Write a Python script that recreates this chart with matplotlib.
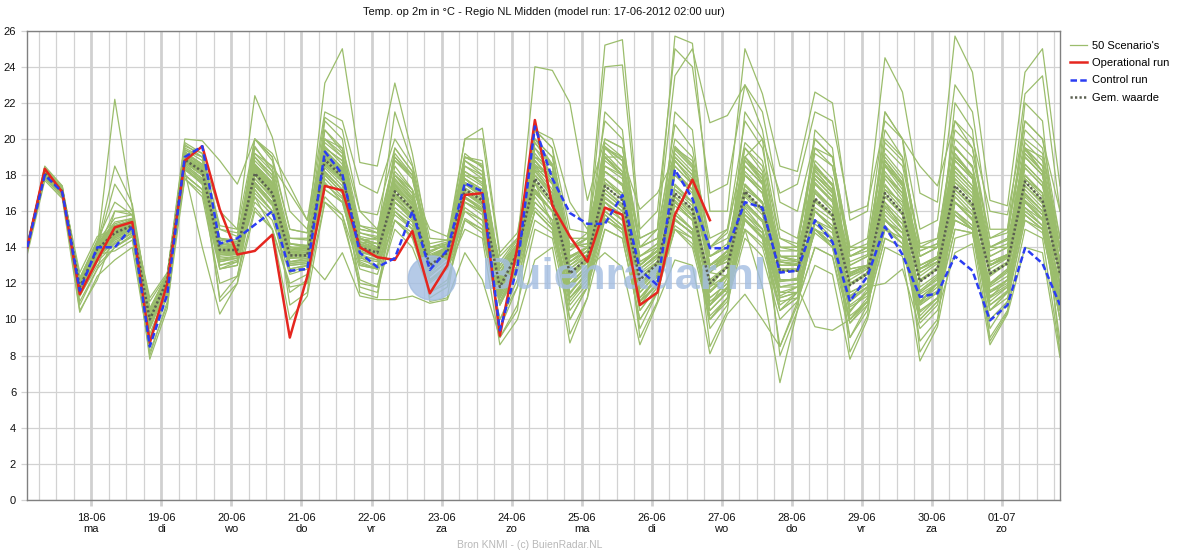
import matplotlib
matplotlib.use("Agg")
import matplotlib.pyplot as plt
import matplotlib.dates as mdates
from matplotlib.patches import Ellipse
import numpy as np
import pandas as pd

plt.rcParams['font.family'] = ['Liberation Sans', 'DejaVu Sans']

# model run 17-06-2012 02:00, one value every 6 hours
START = '2012-06-17 02:00'
N_STEPS = 60

# 50 scenario's, temperatures in tenths of a degree (read from the plume)
SCENARIOS = [
    "141 182 172 121 140 152 155 103 123 191 184 142 140 186 173 139 138 192 182 143 139 175 163 131 138 175 168 120 138 182 182 134 140 192 182 128 136 188 176 126 138 190 178 133 132 186 174 125 130 188 176 128 134 192 180 130 136 194 182 132",
    "138 179 169 114 134 143 148 95 118 183 176 132 134 175 165 131 132 181 172 135 133 165 156 126 134 167 161 113 133 171 160 119 130 167 160 117 127 163 155 115 124 164 155 121 123 160 152 113 120 163 153 116 124 168 158 119 127 169 160 119",
    "139 185 174 108 128 160 158 88 113 197 190 128 130 196 182 126 130 205 193 131 128 185 172 121 129 185 178 108 130 195 180 114 127 190 180 110 124 188 176 108 118 190 176 113 118 183 171 104 117 188 174 109 120 192 178 112 122 195 182 110",
    "142 183 173 123 144 165 158 110 125 195 190 152 150 200 188 150 148 212 205 160 158 195 182 140 143 188 180 128 142 205 195 150 148 210 200 140 145 208 195 140 150 210 195 145 140 200 190 135 138 205 190 140 140 210 195 140 145 210 200 145",
    "136 177 167 104 124 133 140 82 108 178 168 120 124 162 150 118 120 165 155 120 118 150 140 115 120 155 148 100 118 155 148 105 118 150 145 100 115 150 140 100 110 145 135 100 110 140 135 98 108 145 140 100 110 150 148 105 112 155 148 105",
    "140 180 170 117 137 146 150 99 121 186 178 136 137 178 168 134 135 185 176 139 136 168 158 129 136 170 164 116 136 176 152 112 122 160 152 110 119 156 147 108 117 156 146 115 115 153 144 107 113 156 145 109 116 160 150 113 119 162 152 113",
    "141 183 172 120 142 154 156 105 124 194 188 145 142 190 178 142 140 196 186 145 140 178 166 133 140 178 170 118 136 172 160 118 128 165 158 112 124 160 150 108 118 158 148 112 115 155 145 105 115 158 148 110 120 165 155 115 122 166 156 112",
    "139 180 170 116 136 142 148 96 119 184 176 133 134 174 164 130 131 180 170 134 132 165 157 127 135 170 165 120 140 185 175 132 140 185 178 130 138 182 172 128 136 180 170 135 133 178 168 126 130 182 170 128 134 185 174 130 136 186 176 132",
    "140 181 171 119 139 150 153 101 123 190 182 140 139 183 172 138 137 190 181 142 138 174 164 131 138 175 169 121 139 185 180 140 145 252 255 150 160 250 240 170 175 230 215 165 160 200 190 140 145 215 200 150 155 230 215 150 150 225 235 160",
    "140 181 171 119 140 148 152 100 122 189 181 139 139 182 171 137 137 190 183 141 139 173 162 131 138 176 170 122 140 188 178 142 140 240 241 145 150 257 253 160 160 250 225 185 182 226 220 155 160 245 226 170 165 257 237 166 163 237 250 174",
    "140 182 172 118 140 150 154 102 124 192 186 145 142 200 190 150 148 231 250 187 185 231 192 140 140 190 185 125 140 205 200 165 150 190 180 135 140 190 180 135 140 185 175 135 135 180 170 130 135 185 175 135 140 190 180 135 140 195 185 140",
    "140 181 171 118 139 147 151 99 121 188 181 138 138 183 174 137 136 191 183 141 138 176 166 133 139 180 178 123 142 240 238 220 166 200 195 140 150 200 190 145 150 195 185 140 140 195 185 135 140 200 190 140 145 205 195 145 150 205 195 140",
    "140 182 171 119 140 175 160 101 123 194 190 160 150 224 201 160 150 200 195 160 150 190 180 140 142 185 180 130 142 190 185 140 145 185 180 130 140 185 175 130 135 180 170 130 130 175 165 125 130 180 170 130 135 180 170 130 135 180 170 130",
    "141 183 172 120 140 222 162 105 124 193 185 145 143 190 180 140 140 195 188 145 142 180 168 132 139 178 170 120 138 183 170 128 135 178 170 125 132 174 165 122 130 174 164 128 128 170 160 120 126 172 161 122 129 176 166 126 132 178 168 126",
    "139 180 170 110 128 140 146 80 110 184 175 112 124 172 160 115 122 178 168 122 118 160 150 112 118 165 160 95 118 170 160 100 118 165 158 95 115 165 155 95 108 162 150 85 108 155 150 90 105 165 150 88 100 165 155 95 110 170 160 88",
    "139 179 169 113 130 140 147 90 115 180 172 130 132 170 160 128 130 175 167 132 128 160 152 122 130 165 160 110 128 165 155 110 122 160 152 108 120 155 148 102 112 150 118 65 105 130 125 78 100 140 135 77 96 145 148 90 105 150 145 82",
    "140 181 171 119 139 149 152 101 122 188 180 137 138 180 169 135 136 187 178 139 137 170 161 130 137 172 166 118 137 178 166 125 134 174 166 122 131 170 161 120 129 171 161 127 127 167 158 119 125 170 159 121 128 174 164 125 131 176 166 125",
    "141 184 174 122 143 156 158 106 125 198 192 150 146 195 184 145 144 205 195 152 148 190 178 138 141 188 182 125 141 198 185 140 142 195 188 132 138 192 182 130 138 195 182 135 132 188 178 128 130 192 180 130 134 196 184 132 136 198 188 132",
    "139 178 168 116 136 138 144 95 118 178 170 128 132 165 155 125 128 168 158 128 125 155 148 120 128 160 152 112 130 160 150 115 126 155 150 115 125 152 145 112 120 150 142 118 120 148 140 110 118 150 142 112 120 155 150 118 124 158 150 115",
    "140 180 170 117 137 145 150 98 120 185 177 134 135 176 165 132 133 182 172 136 133 165 155 126 134 168 161 115 134 172 160 120 130 168 160 115 126 165 155 112 120 160 150 118 118 96 94 100 110 150 145 110 118 165 158 115 120 168 158 112",
    "140 182 172 122 142 153 156 104 124 192 185 142 141 186 175 140 139 194 184 144 145 192 180 137 142 192 184 126 142 200 186 134 140 198 190 130 138 196 186 128 132 175 165 130 130 171 162 122 128 174 163 124 131 178 168 128 134 180 170 128",
    "140 181 171 118 138 147 151 100 121 187 180 137 137 180 169 134 135 186 177 138 135 168 158 128 135 168 162 114 133 172 160 118 128 165 155 112 124 158 150 110 118 155 145 112 115 150 142 108 115 152 142 108 115 155 150 112 118 158 150 108",
    "141 181 172 126 146 150 156 112 126 188 183 150 148 182 172 145 145 190 182 152 150 172 165 142 144 175 170 132 145 180 170 140 148 175 170 140 145 172 165 140 145 172 165 140 140 170 162 135 140 172 165 138 142 176 168 140 145 178 170 140",
    "138 182 170 105 122 148 150 78 106 190 184 110 120 185 172 108 115 190 180 115 112 175 165 110 112 175 168 90 105 180 168 92 112 178 168 90 110 175 165 85 105 175 165 80 105 172 162 82 102 175 163 82 98 178 168 88 104 180 170 82",
    "140 181 171 120 141 152 154 103 123 192 186 143 141 190 180 142 141 198 190 148 145 182 172 135 140 180 174 122 140 188 176 132 138 182 175 128 136 180 170 126 134 180 170 132 131 175 166 124 129 178 166 126 132 182 172 130 135 184 174 130",
    "139 180 170 116 137 144 149 97 119 184 175 130 133 172 160 128 130 176 165 130 128 160 150 122 130 162 155 108 128 165 155 115 125 162 155 112 122 158 150 108 118 158 150 115 118 155 148 110 118 160 150 112 120 165 155 115 122 165 155 112",
    "139 180 170 115 134 146 150 96 118 182 140 103 120 160 150 120 125 172 165 130 128 165 158 125 132 168 160 112 130 170 160 118 128 170 162 118 128 168 158 115 125 168 158 122 122 162 155 115 120 165 155 115 122 170 160 120 128 172 162 120",
    "141 183 173 121 141 185 164 105 125 200 199 188 175 200 192 174 155 215 210 175 170 200 185 138 142 190 185 128 142 200 190 145 145 195 185 135 142 195 185 135 140 190 180 135 135 185 175 130 135 190 178 135 140 195 185 135 140 195 185 138",
    "140 181 171 119 140 149 153 101 122 189 182 140 139 192 185 170 155 200 192 150 148 188 178 136 140 182 176 124 140 192 180 135 140 188 180 130 138 185 175 128 135 185 175 130 130 180 170 125 130 185 172 128 134 188 178 130 136 190 180 132",
    "139 179 169 113 132 142 148 92 116 180 172 128 130 168 150 100 113 165 158 118 115 155 145 115 122 155 150 100 122 160 150 108 120 158 150 105 118 155 148 100 112 155 145 105 112 150 140 98 110 155 145 100 110 160 152 105 115 165 155 100",
    "140 180 170 117 136 146 151 99 120 186 178 135 136 176 165 132 133 122 137 113 111 111 113 109 111 137 122 90 108 150 145 100 118 155 150 105 118 150 145 100 112 150 140 105 112 150 140 100 110 150 142 105 112 155 150 108 115 158 150 105",
    "140 181 171 118 138 147 151 99 121 187 180 137 137 180 169 134 135 187 178 139 136 168 158 122 128 150 145 86 100 133 140 87 112 150 145 100 115 155 148 105 115 155 145 108 115 150 142 105 115 155 148 108 115 160 152 110 118 162 155 108",
    "140 181 171 119 139 148 152 100 122 188 181 138 138 181 170 136 136 188 179 140 137 170 160 128 135 168 160 115 133 172 160 118 128 137 129 86 109 133 130 81 103 114 100 85 110 140 135 90 108 145 140 98 108 150 148 100 110 155 150 100",
    "140 180 170 117 138 147 151 99 121 187 180 137 137 180 169 135 136 187 178 139 137 170 160 130 137 170 164 117 136 175 163 122 132 170 162 119 129 166 157 116 125 165 155 122 122 160 150 112 118 120 128 95 105 137 142 86 103 140 137 79",
    "141 182 172 121 141 151 154 103 123 190 184 140 140 188 178 140 138 195 188 146 144 180 170 134 140 178 170 120 138 184 172 130 136 182 174 126 134 182 172 128 134 182 172 132 130 176 166 124 128 180 168 126 132 184 174 130 134 186 176 130",
    "140 181 171 118 139 148 152 100 121 187 180 136 137 178 167 134 134 184 174 137 135 167 158 128 136 170 163 116 136 175 163 123 133 172 163 120 130 168 158 118 130 188 178 128 128 184 174 120 126 186 174 121 128 190 180 124 131 192 182 124",
    "140 182 172 120 140 150 154 102 123 191 184 141 140 185 175 140 139 192 183 145 142 177 167 133 139 178 172 122 140 190 180 135 140 200 195 145 150 235 250 209 213 230 205 150 145 195 190 140 140 195 185 140 140 195 185 140 140 195 190 140",
    "141 183 172 121 141 152 155 103 124 193 186 144 142 192 182 142 140 200 190 148 146 215 186 145 144 200 206 137 148 200 190 140 142 190 180 132 138 190 180 130 138 190 180 135 132 185 175 128 130 188 176 130 135 190 180 132 136 192 182 132",
    "140 181 171 119 140 149 153 101 122 190 183 140 139 186 176 139 138 193 184 143 140 180 170 135 140 200 200 135 145 195 185 135 140 190 182 130 138 188 178 130 136 188 176 132 130 182 172 126 130 186 174 128 134 188 178 130 136 190 180 130",
    "141 182 172 123 143 151 155 106 125 191 184 145 144 186 175 142 141 193 184 150 148 180 172 150 146 182 175 130 144 188 176 140 145 182 175 135 142 180 172 135 142 180 172 138 138 178 168 132 136 180 170 135 140 182 172 138 142 184 174 138",
    "140 181 171 120 140 150 153 101 122 189 182 140 139 184 173 138 137 190 181 142 139 174 164 131 138 175 168 120 138 182 170 128 136 190 190 161 170 190 180 135 140 185 175 140 138 180 172 135 140 185 175 138 142 188 178 140 144 190 180 140",
    "140 182 172 121 141 151 155 103 124 191 184 142 141 186 176 140 139 194 184 145 142 178 168 134 140 178 172 122 140 185 175 132 138 182 175 130 138 180 172 130 138 190 200 170 175 215 210 159 163 210 200 185 174 210 200 160 158 210 200 160",
    "139 179 169 115 135 144 149 96 119 183 175 132 134 174 163 130 131 180 170 133 130 162 154 124 132 165 158 110 130 168 155 112 124 160 152 108 120 158 150 105 115 155 145 105 115 150 142 100 112 155 145 102 112 158 150 105 115 160 152 100",
    "140 181 171 118 138 148 152 100 121 188 182 138 138 182 171 136 136 189 180 141 138 172 162 130 137 173 167 119 137 180 168 126 134 176 168 123 132 172 163 121 115 170 160 110 112 166 157 102 110 168 158 104 112 172 162 108 116 174 164 106",
    "140 183 173 117 139 160 160 98 120 196 192 136 136 200 190 132 134 210 200 138 134 195 182 128 134 190 188 115 134 205 195 125 132 215 205 120 128 215 205 118 125 215 200 122 122 205 195 115 120 215 200 118 125 220 205 120 128 220 210 118",
    "139 179 169 122 142 140 146 106 124 180 172 140 140 168 158 140 140 172 165 145 140 158 150 135 140 160 155 125 140 162 152 130 138 158 150 128 135 155 148 128 132 155 148 130 130 150 145 125 130 155 148 128 132 158 150 130 135 160 152 130",
    "141 182 172 120 141 150 154 102 123 190 183 140 140 184 174 138 138 191 182 143 142 188 180 134 140 190 186 124 140 198 186 132 138 196 188 128 136 194 184 126 124 165 155 118 120 160 150 112 118 162 150 114 120 165 156 116 122 166 158 115",
    "139 180 170 116 136 145 150 97 119 185 177 133 135 176 165 131 132 182 172 135 128 155 146 122 128 156 150 108 126 160 150 112 122 156 148 110 120 150 142 108 123 163 154 121 122 160 152 113 120 163 153 115 123 168 158 119 126 170 160 118",
    "140 181 171 119 140 149 153 101 122 189 182 139 139 183 172 137 137 190 181 141 139 174 164 131 138 176 170 121 140 186 178 138 145 195 190 140 145 195 188 140 148 198 188 145 142 192 185 138 142 198 188 142 145 200 190 145 148 200 192 145",
    "140 181 171 119 139 148 152 101 122 187 180 138 138 180 169 136 136 186 177 140 137 169 160 130 137 171 165 119 137 176 165 126 134 172 164 123 131 168 160 121 129 169 160 127 127 165 157 120 125 168 158 122 128 172 163 125 131 174 165 125",
]

# operational run (ends after 40 steps), degrees C
OPERATIONAL = [14.0, 18.35, 17.05, 11.4, 13.3, 15.1, 15.4, 8.7, 12.0, 18.8,
               19.6, 16.1, 13.6, 13.8, 14.7, 9.0, 12.4, 17.4, 17.15, 14.0,
               13.45, 13.3, 14.9, 11.45, 13.0, 16.9, 17.0, 9.1, 14.0, 21.05,
               16.3, 14.6, 13.2, 16.2, 15.8, 10.8, 11.5, 15.8, 17.75, 15.5]

CONTROL = [14.0, 18.0, 17.05, 11.6, 14.0, 14.0, 15.15, 8.5, 11.4, 19.0,
           19.6, 14.2, 14.5, 15.25, 16.0, 12.7, 12.8, 19.3, 18.05, 13.7,
           12.9, 13.4, 16.0, 12.75, 13.85, 17.55, 17.1, 9.4, 12.9, 20.7,
           17.8, 15.9, 15.3, 15.3, 16.9, 12.75, 11.9, 18.3, 16.7, 13.95,
           13.95, 16.5, 16.2, 12.6, 12.7, 15.5, 14.3, 11.0, 12.4, 15.15,
           13.6, 11.25, 11.45, 13.5, 12.7, 9.95, 10.8, 13.95, 13.1, 10.8]

GEM_WAARDE = [14.0, 18.1, 17.1, 11.8, 13.9, 14.8, 15.2, 10.0, 12.2, 18.85,
              18.2, 13.85, 13.85, 18.1, 17.0, 13.55, 13.55, 18.85, 17.9, 14.0,
              13.7, 17.1, 16.1, 13.0, 13.7, 17.2, 16.6, 11.8, 13.7, 17.8,
              16.5, 12.55, 13.4, 17.4, 16.6, 12.2, 13.1, 17.0, 16.1, 12.0,
              12.9, 17.1, 16.1, 12.7, 12.7, 16.7, 15.8, 11.9, 12.55, 17.0,
              15.9, 12.1, 12.8, 17.4, 16.4, 12.55, 13.1, 17.65, 16.6, 12.55]

DAY_DATES = ['18-06', '19-06', '20-06', '21-06', '22-06', '23-06', '24-06',
             '25-06', '26-06', '27-06', '28-06', '29-06', '30-06', '01-07']
DAY_NAMES = ['ma', 'di', 'wo', 'do', 'vr', 'za', 'zo',
             'ma', 'di', 'wo', 'do', 'vr', 'za', 'zo']

TITLE = 'Temp. op 2m in \u00b0C - Regio NL Midden (model run: 17-06-2012 02:00 uur)'

times = pd.date_range(START, periods=N_STEPS, freq='6h')
midnights = pd.date_range('2012-06-18', periods=len(DAY_DATES), freq='D')

fig = plt.figure(figsize=(11.8, 5.5), dpi=100)
ax = fig.add_axes([0.0231, 0.0909, 0.8752, 0.8533])

GREEN = '#9bbd6c'
first = True
for s in SCENARIOS:
    vals = np.array(s.split(), dtype=float) / 10.0
    ax.plot(times[:len(vals)], vals, color=GREEN, lw=0.9, zorder=2,
            label="50 Scenario's" if first else '_nolegend_')
    first = False

# watermark
ax.text(0.5775, 0.475, 'Buienradar.nl', transform=ax.transAxes, ha='center',
        va='center', fontsize=32, fontweight='bold', color='#a3bde2',
        alpha=0.8, zorder=3)
ax.add_patch(Ellipse((0.392, 0.473), 0.046, 0.094, transform=ax.transAxes,
                     color='#a3bde2', alpha=0.8, zorder=3))

ax.plot(times[:len(OPERATIONAL)], OPERATIONAL, color='#e5261f', lw=1.8,
        zorder=5, label='Operational run')
ax.plot(times, CONTROL, color='#2b3df2', lw=1.8, ls=(0, (2.6, 1.3)),
        zorder=6, label='Control run')
ax.plot(times, GEM_WAARDE, color='#5a5f50', lw=1.8, ls=(0, (0.9, 0.9)),
        zorder=4, label='Gem. waarde')

ax.set_xlim(times[0], times[-1])
ax.set_ylim(0, 26)
ax.set_yticks(np.arange(0, 27, 2))

ax.set_xticks(midnights)
ax.set_xticklabels([d + '\n' + n for d, n in zip(DAY_DATES, DAY_NAMES)])
ax.xaxis.set_minor_locator(mdates.HourLocator(byhour=[0, 6, 12, 18]))

ax.grid(which='minor', axis='x', color='#d2d2d2', lw=0.9, zorder=0)
ax.grid(which='major', axis='x', color='#d0d0d0', lw=2.0, zorder=0)
ax.grid(which='major', axis='y', color='#d2d2d2', lw=0.9, zorder=0)
ax.set_axisbelow(True)

ax.tick_params(axis='x', which='major', length=4, width=2, color='#d0d0d0',
               pad=5, labelsize=8, labelcolor='#111111')
ax.tick_params(axis='x', which='minor', length=0)
ax.tick_params(axis='y', length=4, width=0.9, color='#d2d2d2', pad=4,
               labelsize=8, labelcolor='#111111')
for sp in ax.spines.values():
    sp.set_color('#808080')
    sp.set_linewidth(1.0)

fig.text(0.4606, 1 - 12 / 550, TITLE, ha='center', va='center', fontsize=8,
         color='#111111')
fig.text(530 / 1180, 1 - 545 / 550, 'Bron KNMI - (c) BuienRadar.NL',
         ha='center', va='center', fontsize=7.5, color='#b8b8b8')

fig.legend(loc='upper left', bbox_to_anchor=(0.9045, 0.93), frameon=False,
           fontsize=8, handlelength=1.6, handletextpad=0.4, labelspacing=0.66,
           borderaxespad=0, borderpad=0.2)

fig.savefig('out.png', dpi=100)
